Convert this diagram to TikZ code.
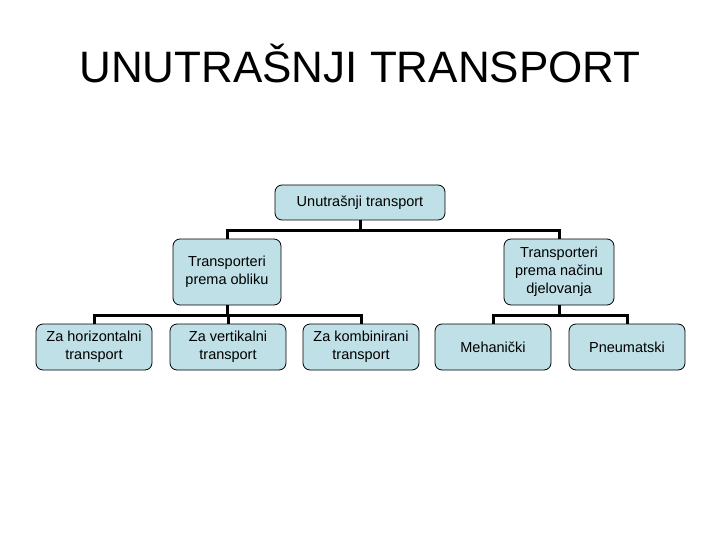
\documentclass[tikz,border=0pt]{standalone}
\usepackage{fontspec}
\setmainfont{Liberation Sans}
\definecolor{boxfill}{RGB}{190,224,230}
\begin{document}
\begin{tikzpicture}[x=1pt, y=-1pt, font=\fontsize{14.5}{18}\selectfont]
  \tikzset{
    tbox/.style={draw=black, line width=0.8pt, fill=boxfill, rounded corners=7pt,
      align=center, inner sep=0pt},
    conn/.style={line width=3pt}
  }
  \useasboundingbox (0,0) rectangle (720,540);
  % ---- title ----
  \node[font=\fontsize{44}{50}\selectfont, anchor=base] (title) at (360,83) {UNUTRAŠNJI TRANSPORT};
  % ---- root and second level ----
  \node[tbox, minimum width=170, minimum height=35] (root) at (360,202.5) {Unutrašnji transport};
  \node[tbox, minimum width=108, minimum height=66] (obl) at (227,272) {Transporteri\\prema obliku};
  \node[tbox, minimum width=110, minimum height=66] (nac) at (559,272) {Transporteri\\prema načinu\\djelovanja};
  % ---- third level ----
  \foreach \nm/\x/\t in {hor/94/{Za horizontalni\\transport}, ver/228/{Za vertikalni\\transport},
    kom/361/{Za kombinirani\\transport}, meh/493/{Mehanički}, pne/627/{Pneumatski}} {
    \node[tbox, minimum width=116, minimum height=46] (\nm) at (\x,347) {\t};
  }
  % ---- connectors ----
  \draw[conn] (root.south) -- ++(0,10) -| (obl.north);
  \draw[conn] (root.south) -- ++(0,10) -| (nac.north);
  \foreach \nm in {hor,ver,kom} { \draw[conn] (obl.south) -- ++(0,10) -| (\nm.north); }
  \foreach \nm in {meh,pne} { \draw[conn] (nac.south) -- ++(0,10) -| (\nm.north); }
\end{tikzpicture}
\end{document}
